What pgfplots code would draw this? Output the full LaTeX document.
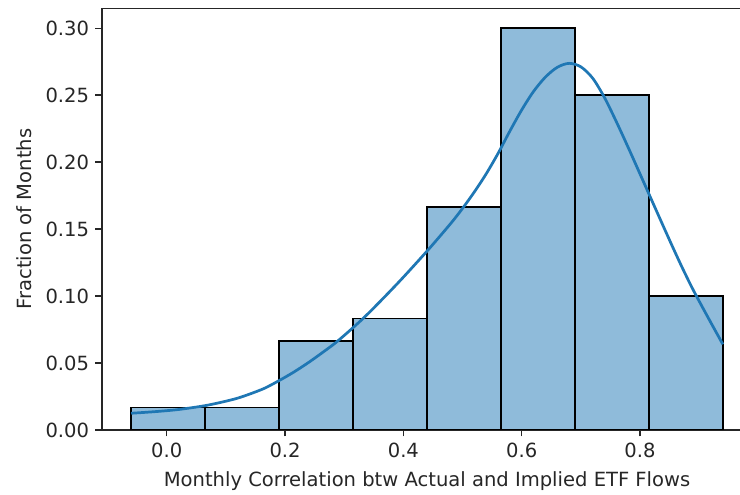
\documentclass[border=0pt]{standalone}
\usepackage{pgfplots}
\pgfplotsset{compat=1.18}
\usepackage{fontspec}
\setmainfont{DejaVu Sans}
\definecolor{histfill}{RGB}{143,187,218}
\definecolor{kdeline}{RGB}{31,119,180}
\begin{document}
\begin{tikzpicture}
\begin{axis}[
  scale only axis,
  width=351pt, height=232pt,
  xmin=-0.1097, xmax=0.969,
  ymin=0, ymax=0.315,
  axis x line*=bottom, axis y line*=left,
  axis line style={line width=0.8pt, black!85},
  tick align=outside,
  major tick length=3.5pt,
  every tick/.style={line width=0.8pt, black!85},
  xtick={0,0.2,0.4,0.6,0.8},
  ytick={0,0.05,0.1,0.15,0.2,0.25,0.3},
  scaled ticks=false,
  /pgf/number format/assume math mode=true,
  xticklabel style={/pgf/number format/.cd, fixed, fixed zerofill, precision=1},
  yticklabel style={/pgf/number format/.cd, fixed, fixed zerofill, precision=2},
  tick label style={font=\fontsize{10.75}{13}\selectfont, text=black!85},
  label style={font=\fontsize{10.75}{13}\selectfont, text=black!85},
  xlabel={Monthly Correlation btw Actual and Implied ETF Flows},
  ylabel={Fraction of Months},
  xlabel style={at={(axis description cs:0.5096,-0.121)}, anchor=center},
  ylabel style={at={(axis description cs:-0.122,0.5)}, anchor=center, rotate=0},
  clip=true,
]
\addplot[ybar interval, fill=histfill, draw=black, line width=0.9pt] coordinates {
  (-0.06,0.016667) (0.065,0.016667) (0.19,0.066667) (0.315,0.083333)
  (0.44,0.166667) (0.565,0.30) (0.69,0.25) (0.815,0.10) (0.94,0.10)
};
\addplot[kdeline, line width=1.5pt, smooth, no markers] coordinates {
  (-0.06,0.0125) (-0.02,0.0137) (0.02,0.0153) (0.065,0.0182) (0.10,0.0215)
  (0.12,0.0238) (0.14,0.0268) (0.165,0.0311) (0.19,0.0369) (0.215,0.0433)
  (0.24,0.0505) (0.265,0.0584) (0.29,0.0668) (0.335,0.0846)
  (0.39,0.1094) (0.44,0.1336) (0.48,0.1542) (0.50,0.1655) (0.52,0.1778) (0.54,0.1913)
  (0.56,0.2065) (0.58,0.2232) (0.60,0.2390) (0.62,0.2528) (0.64,0.2635)
  (0.66,0.2708) (0.68,0.2738) (0.70,0.2712)
  (0.72,0.2627) (0.74,0.2482) (0.76,0.2302) (0.78,0.2110) (0.80,0.1912)
  (0.825,0.1664) (0.85,0.1417) (0.87,0.1225)
  (0.89,0.1045) (0.915,0.0840) (0.94,0.0640)
};
\draw[line width=0.8pt, black!85] (rel axis cs:0,1) -- (rel axis cs:1,1);
\end{axis}
\pgfresetboundingbox
\path (current axis.south west) ++(-56pt,-35.75pt) coordinate (bbA);
\path (current axis.north east) ++(0pt,4.5pt) coordinate (bbB);
\useasboundingbox (bbA) rectangle (bbB);
\end{tikzpicture}
\end{document}
